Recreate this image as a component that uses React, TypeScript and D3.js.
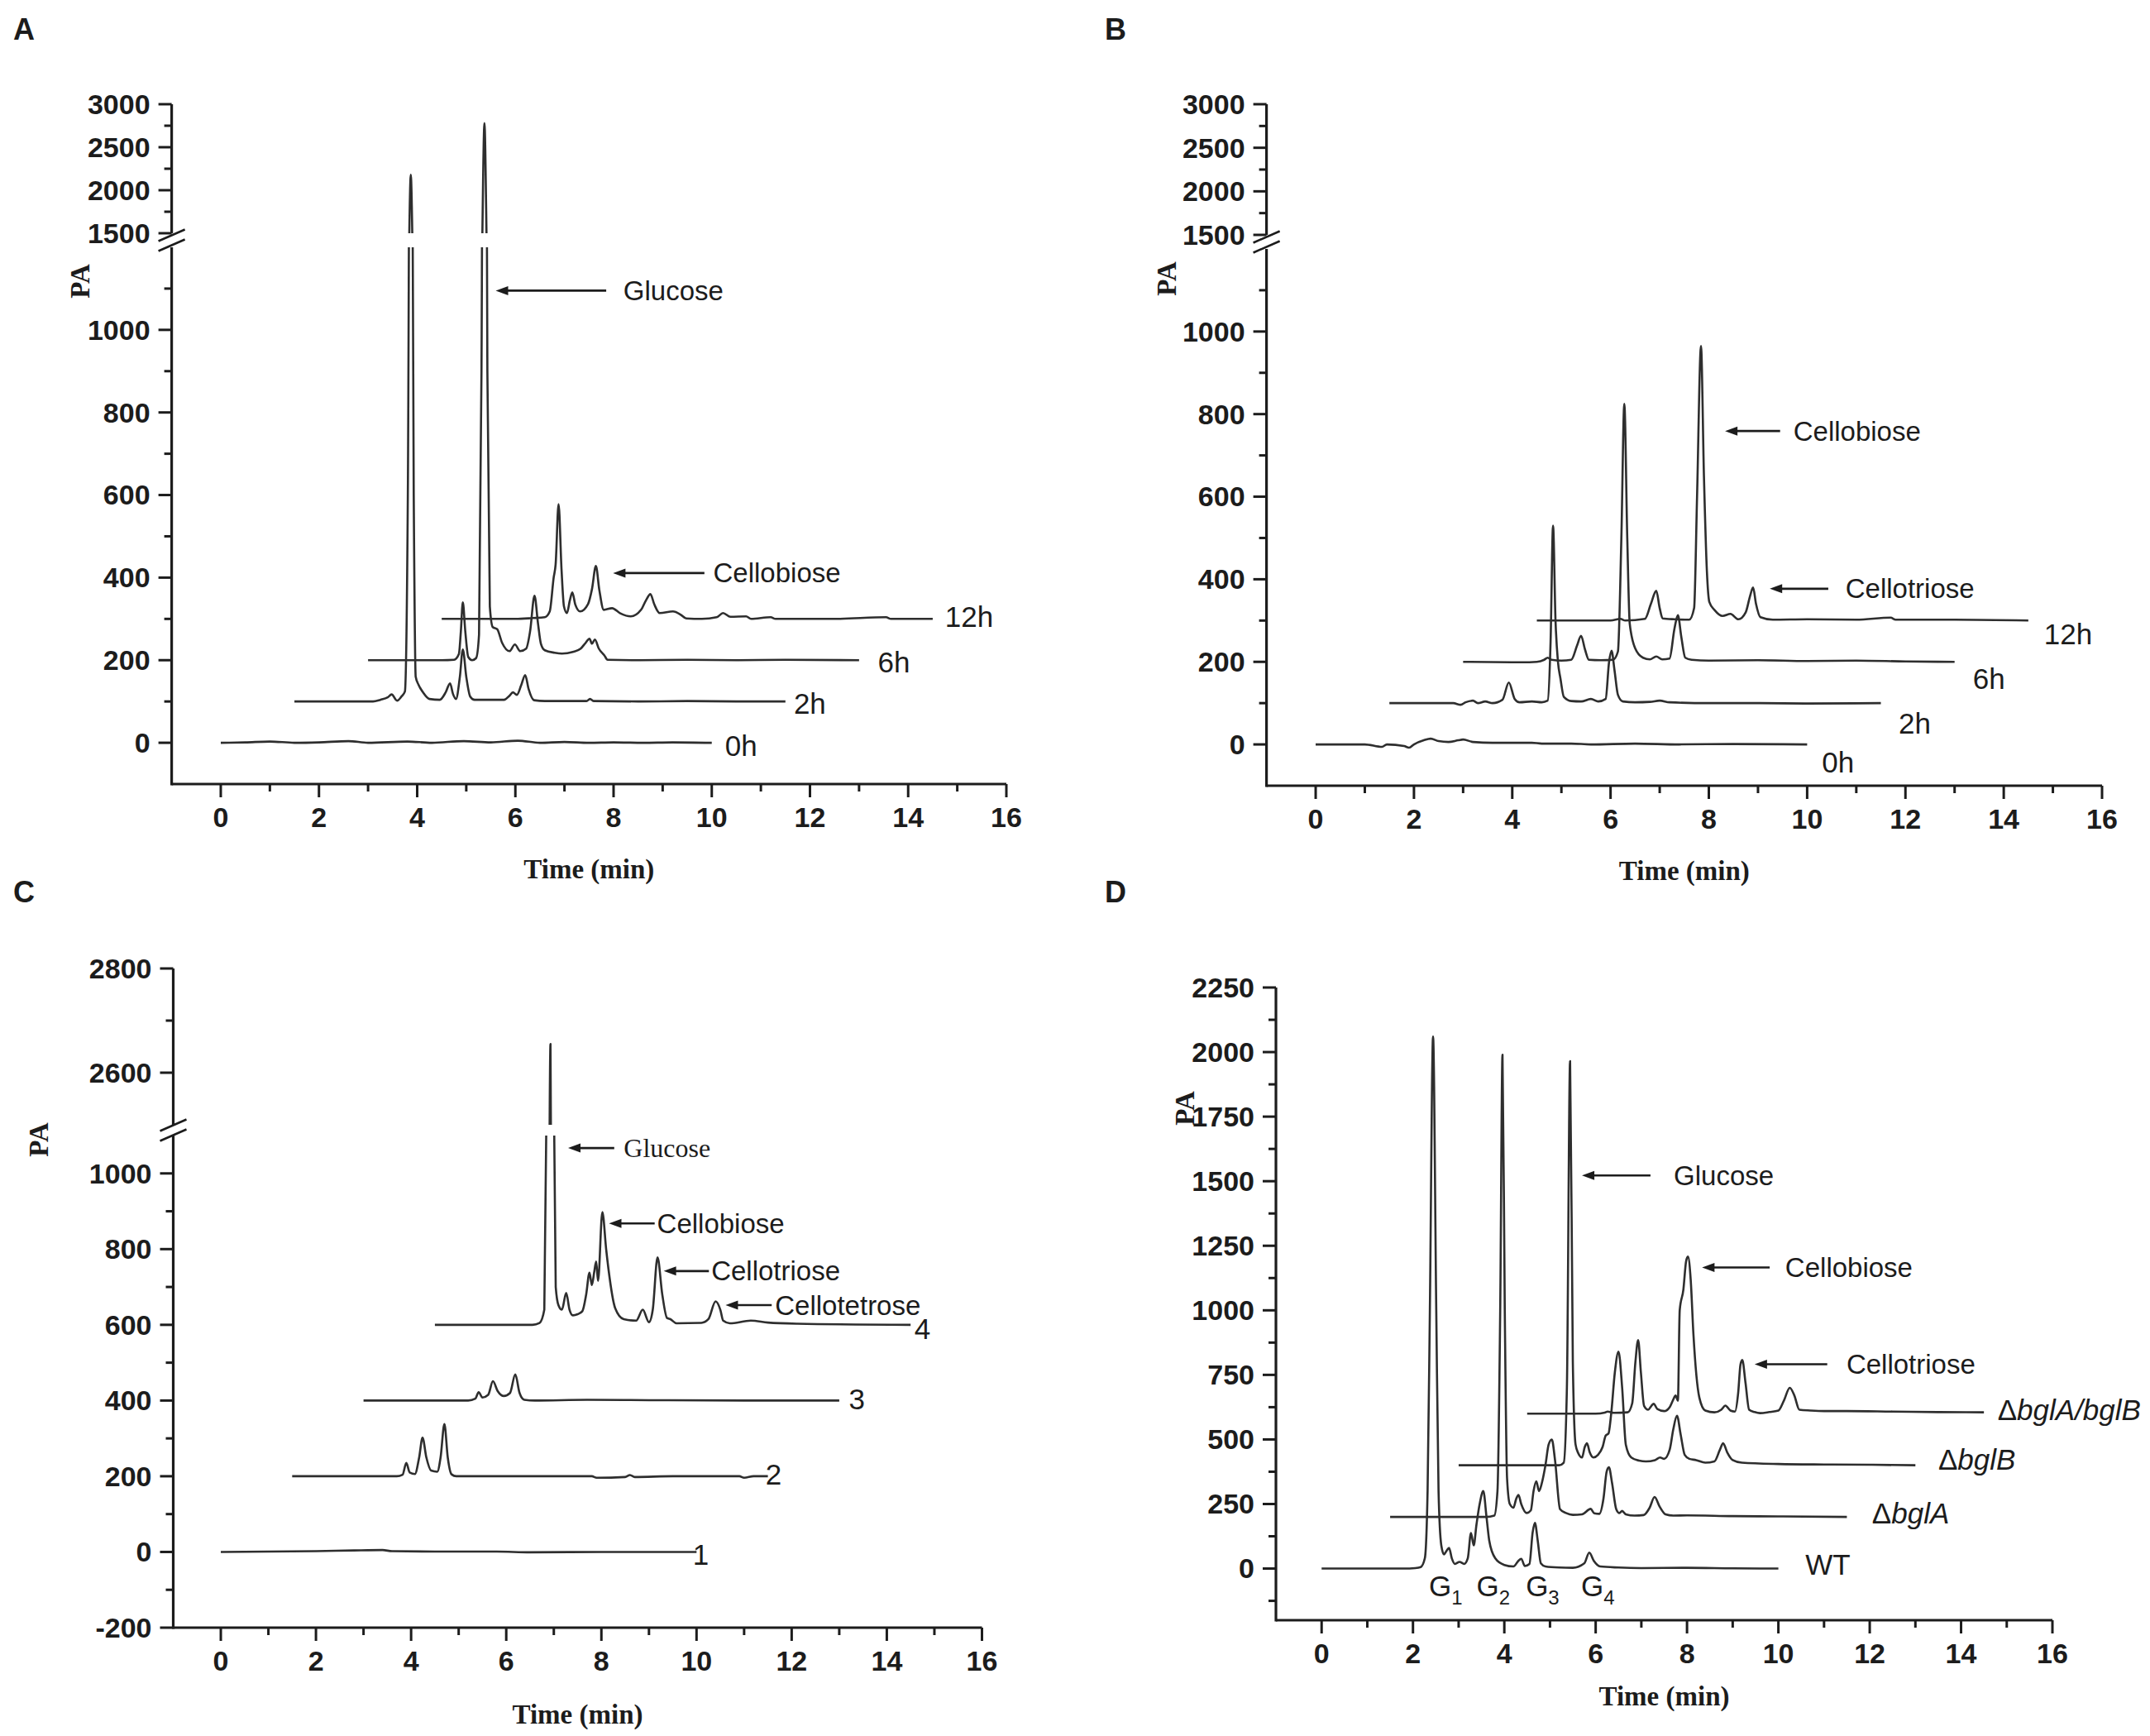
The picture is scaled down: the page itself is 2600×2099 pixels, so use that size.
import React from "react";
import * as d3 from "d3";

type Pt = [number, number];

const SANS = "'Liberation Sans', Arial, Helvetica, sans-serif";
const SERIF = "'Liberation Serif', 'Times New Roman', serif";
const INK = "#1c1c1c";
const TRACE = "#2e2e2e";

// ---------------- shared ticks ----------------
const timeMajor = [0, 2, 4, 6, 8, 10, 12, 14, 16];
const timeMinor = [1, 3, 5, 7, 9, 11, 13, 15];

// ---------------- Panel A ----------------
const A_yMajorLower = [0, 200, 400, 600, 800, 1000];
const A_yMinorLower = [100, 300, 500, 700, 900, 1100];
const A_yMajorUpper = [1500, 2000, 2500, 3000];
const A_yMinorUpper = [1750, 2250, 2750];

const A_0h: Pt[] = [[0, 0], [0.5, 1], [1, 3], [1.5, 0], [2, 1], [2.6, 4], [3, 0], [3.8, 3], [4.3, 0], [4.95, 4], [5.5, 1], [6.05, 5], [6.5, 0], [7, 2], [7.5, 0], [8, 1], [8.6, 0], [9.2, 1], [10, 0]];
const A_2h: Pt[] = [[1.5, 100], [3.1, 100], [3.25, 104], [3.4, 110], [3.48, 117], [3.59, 102], [3.68, 112], [3.75, 124], [3.81, 600], [3.87, 2180], [3.93, 600], [3.97, 160], [4.03, 140], [4.12, 122], [4.25, 106], [4.46, 104], [4.58, 122], [4.67, 144], [4.73, 118], [4.79, 106], [4.87, 160], [4.93, 226], [5.0, 160], [5.08, 112], [5.17, 104], [5.5, 104], [5.77, 104], [5.88, 114], [5.95, 122], [6.03, 116], [6.12, 140], [6.2, 164], [6.27, 130], [6.38, 103], [6.6, 101], [7.0, 101], [7.45, 101], [7.52, 106], [7.6, 101], [8.5, 100], [9.5, 101], [10.5, 100], [11.5, 100]];
const A_6h: Pt[] = [[3, 200], [4.5, 200], [4.75, 201], [4.85, 215], [4.89, 270], [4.93, 340], [4.98, 270], [5.04, 208], [5.12, 200], [5.2, 205], [5.26, 262], [5.31, 900], [5.37, 2780], [5.43, 900], [5.48, 330], [5.54, 280], [5.63, 275], [5.73, 242], [5.88, 222], [5.99, 238], [6.1, 222], [6.22, 228], [6.3, 270], [6.39, 356], [6.46, 290], [6.52, 240], [6.6, 224], [6.8, 218], [6.95, 216], [7.17, 220], [7.33, 228], [7.43, 242], [7.51, 252], [7.56, 240], [7.62, 250], [7.7, 228], [7.81, 212], [7.88, 201], [8.5, 200], [9.5, 201], [10.5, 200], [11.5, 201], [13, 200]];
const A_12h: Pt[] = [[4.5, 300], [6.0, 300], [6.35, 302], [6.6, 304], [6.7, 318], [6.78, 400], [6.82, 432], [6.88, 578], [6.94, 420], [6.99, 330], [7.05, 314], [7.11, 345], [7.16, 364], [7.22, 335], [7.32, 318], [7.48, 336], [7.56, 372], [7.64, 428], [7.71, 370], [7.8, 322], [7.97, 326], [8.13, 314], [8.35, 306], [8.56, 322], [8.66, 345], [8.75, 360], [8.83, 335], [8.94, 314], [9.21, 318], [9.37, 310], [9.48, 301], [9.8, 300], [10.1, 304], [10.23, 314], [10.38, 305], [10.7, 306], [10.8, 300], [11.2, 304], [11.3, 300], [12.5, 300], [13.55, 304], [13.65, 300], [14.5, 300]];

const A_labels = [
  { text: "0h", t: 10.27, v: -8 },
  { text: "2h", t: 11.67, v: 94 },
  { text: "6h", t: 13.38, v: 194 },
  { text: "12h", t: 14.75, v: 305 },
];
const A_notes = [
  { text: "Glucose", tip: 5.6, tail: 7.85, v: 1095, textT: 8.2, serif: false },
  { text: "Cellobiose", tip: 7.99, tail: 9.85, v: 411, textT: 10.03, serif: false },
];

// ---------------- Panel B ----------------
const B_0h: Pt[] = [[0, 0], [1.0, 0], [1.35, -6], [1.45, 0], [1.8, -4], [1.9, -8], [2.0, 0], [2.2, 10], [2.34, 14], [2.5, 8], [2.7, 6], [2.9, 10], [3.0, 12], [3.2, 6], [3.6, 4], [4.4, 4], [4.6, 2], [5.2, 2], [5.6, 0], [6.5, 2], [7.4, 0], [8.5, 1], [10, 0]];
const B_2h: Pt[] = [[1.5, 100], [2.8, 100], [2.95, 96], [3.05, 102], [3.2, 106], [3.3, 100], [3.45, 104], [3.6, 100], [3.8, 108], [3.93, 150], [4.05, 110], [4.15, 102], [4.4, 104], [4.6, 102], [4.72, 106], [4.78, 250], [4.83, 530], [4.88, 300], [4.93, 200], [4.98, 160], [5.05, 115], [5.2, 105], [5.4, 104], [5.6, 110], [5.75, 104], [5.9, 110], [5.97, 200], [6.02, 227], [6.08, 180], [6.15, 120], [6.25, 104], [6.5, 102], [6.8, 103], [7.0, 106], [7.2, 102], [8.0, 100], [9, 100], [10, 99], [11.5, 100]];
const B_6h: Pt[] = [[3, 200], [4.2, 199], [4.5, 200], [4.65, 205], [4.72, 210], [4.8, 205], [5.0, 203], [5.2, 205], [5.32, 240], [5.4, 263], [5.48, 230], [5.56, 205], [5.8, 204], [6.05, 205], [6.15, 225], [6.22, 500], [6.28, 825], [6.34, 500], [6.39, 293], [6.5, 233], [6.66, 210], [6.8, 206], [6.93, 213], [7.05, 206], [7.2, 208], [7.3, 280], [7.37, 313], [7.44, 260], [7.52, 210], [7.65, 205], [8.0, 203], [9.0, 204], [10, 202], [11, 203], [12, 201], [13, 200]];
const B_12h: Pt[] = [[4.5, 300], [6.0, 300], [6.2, 304], [6.3, 300], [6.7, 304], [6.82, 340], [6.93, 372], [7.0, 330], [7.06, 305], [7.3, 303], [7.6, 302], [7.7, 330], [7.76, 600], [7.84, 965], [7.9, 650], [7.96, 420], [8.01, 345], [8.12, 325], [8.28, 311], [8.44, 316], [8.6, 303], [8.75, 320], [8.84, 360], [8.9, 380], [8.96, 340], [9.05, 308], [9.3, 302], [10, 303], [11, 302], [11.7, 307], [11.8, 302], [13, 302], [14.5, 300]];

const B_labels = [
  { text: "0h", t: 10.3, v: -44 },
  { text: "2h", t: 11.86, v: 50 },
  { text: "6h", t: 13.37, v: 158 },
  { text: "12h", t: 14.82, v: 268 },
];
const B_notes = [
  { text: "Cellobiose", tip: 8.33, tail: 9.45, v: 759, textT: 9.72, serif: false },
  { text: "Cellotriose", tip: 9.24, tail: 10.43, v: 377, textT: 10.78, serif: false },
];

// ---------------- Panel C ----------------
const C_yMajorLower = [-200, 0, 200, 400, 600, 800, 1000];
const C_yMinorLower = [-100, 100, 300, 500, 700, 900];
const C_yMajorUpper = [2600, 2800];
const C_yMinorUpper = [2700];

const C_1: Pt[] = [[0, 0], [1, 1], [2, 2], [2.8, 4], [3.4, 5], [3.6, 2], [4.5, 1], [5.8, 1], [6.5, -1], [8, 0], [10, 0]];
const C_2: Pt[] = [[1.5, 200], [3.7, 200], [3.82, 204], [3.9, 235], [3.97, 210], [4.08, 206], [4.17, 250], [4.24, 302], [4.32, 250], [4.42, 215], [4.55, 212], [4.62, 250], [4.7, 338], [4.77, 250], [4.85, 205], [4.95, 200], [6.0, 200], [7.8, 200], [7.9, 196], [8.5, 198], [8.6, 203], [8.7, 198], [9.5, 200], [10.9, 200], [11.0, 196], [11.2, 200], [11.5, 200]];
const C_3: Pt[] = [[3, 400], [5.2, 400], [5.35, 405], [5.42, 422], [5.5, 408], [5.62, 415], [5.72, 451], [5.82, 425], [5.95, 412], [6.08, 420], [6.19, 469], [6.28, 420], [6.38, 402], [6.6, 400], [7.7, 402], [9.0, 401], [11, 400], [13, 400]];
const C_4: Pt[] = [[4.5, 600], [6.55, 600], [6.7, 605], [6.8, 640], [6.86, 1400], [6.93, 2655], [6.99, 1400], [7.04, 700], [7.1, 651], [7.17, 640], [7.26, 684], [7.33, 640], [7.4, 625], [7.5, 628], [7.6, 636], [7.68, 680], [7.75, 738], [7.8, 705], [7.85, 740], [7.89, 767], [7.93, 716], [8.02, 898], [8.1, 800], [8.15, 746], [8.29, 644], [8.47, 615], [8.73, 611], [8.87, 640], [9.0, 607], [9.08, 640], [9.18, 778], [9.28, 680], [9.38, 618], [9.45, 615], [9.58, 604], [10.1, 605], [10.25, 615], [10.4, 662], [10.5, 640], [10.56, 611], [10.7, 604], [11.14, 611], [11.5, 606], [12.12, 603], [14.5, 600]];

const C_labels = [
  { text: "1", t: 9.92, v: -8 },
  { text: "2", t: 11.45, v: 204 },
  { text: "3", t: 13.2, v: 403 },
  { text: "4", t: 14.58, v: 589 },
];
const C_notes = [
  { text: "Glucose", tip: 7.3, tail: 8.27, v: 1067, textT: 8.47, serif: true },
  { text: "Cellobiose", tip: 8.16, tail: 9.12, v: 868, textT: 9.17, serif: false },
  { text: "Cellotriose", tip: 9.31, tail: 10.26, v: 742, textT: 10.31, serif: false },
  { text: "Cellotetrose", tip: 10.61, tail: 11.58, v: 652, textT: 11.65, serif: false },
];

// ---------------- Panel D ----------------
const D_yMajor = [0, 250, 500, 750, 1000, 1250, 1500, 1750, 2000, 2250];
const D_yMinor = [-125, 125, 375, 625, 875, 1125, 1375, 1625, 1875, 2125];

const D_WT: Pt[] = [[0, 0], [1.8, 0], [2.05, 2], [2.17, 6], [2.26, 40], [2.32, 300], [2.37, 1000], [2.44, 2060], [2.51, 1000], [2.56, 300], [2.62, 90], [2.68, 55], [2.74, 70], [2.79, 80], [2.85, 40], [2.92, 18], [3.02, 26], [3.12, 18], [3.2, 40], [3.27, 138], [3.33, 90], [3.39, 170], [3.46, 250], [3.54, 300], [3.61, 200], [3.67, 108], [3.8, 40], [4.0, 14], [4.2, 8], [4.3, 28], [4.37, 38], [4.45, 10], [4.55, 18], [4.62, 140], [4.67, 177], [4.73, 110], [4.8, 20], [4.9, 8], [5.2, 4], [5.5, 3], [5.75, 20], [5.86, 62], [5.96, 30], [6.1, 8], [6.5, 4], [7, 2], [8, 3], [9, 1], [10, 0]];
const D_A: Pt[] = [[1.5, 200], [3.6, 200], [3.78, 205], [3.85, 300], [3.91, 1000], [3.96, 1990], [4.01, 1000], [4.06, 350], [4.12, 250], [4.2, 236], [4.26, 270], [4.31, 285], [4.37, 250], [4.49, 215], [4.58, 225], [4.64, 300], [4.7, 338], [4.76, 300], [4.82, 330], [4.9, 400], [4.97, 480], [5.04, 500], [5.11, 420], [5.22, 230], [5.35, 215], [5.5, 208], [5.7, 210], [5.89, 231], [5.97, 214], [6.08, 212], [6.17, 270], [6.24, 375], [6.29, 392], [6.36, 330], [6.45, 230], [6.52, 215], [6.58, 223], [6.66, 210], [6.85, 205], [7.05, 207], [7.18, 235], [7.29, 277], [7.4, 240], [7.53, 210], [7.7, 205], [8, 206], [9, 203], [10, 202], [11.5, 200]];
const D_B: Pt[] = [[3, 400], [5.2, 400], [5.3, 410], [5.37, 700], [5.44, 1965], [5.5, 800], [5.56, 480], [5.62, 446], [5.7, 430], [5.76, 470], [5.81, 485], [5.87, 450], [5.95, 430], [6.05, 440], [6.15, 470], [6.22, 515], [6.28, 523], [6.34, 600], [6.42, 760], [6.5, 840], [6.58, 700], [6.66, 480], [6.78, 430], [6.95, 418], [7.1, 415], [7.3, 420], [7.41, 430], [7.5, 425], [7.62, 460], [7.7, 540], [7.78, 592], [7.86, 520], [7.95, 440], [8.05, 425], [8.2, 420], [8.4, 410], [8.6, 415], [8.72, 460], [8.79, 485], [8.88, 450], [9.0, 420], [9.2, 410], [10, 405], [11, 403], [12, 402], [13, 400]];
const D_AB: Pt[] = [[4.5, 600], [6.0, 600], [6.2, 604], [6.26, 608], [6.4, 603], [6.7, 605], [6.8, 640], [6.87, 800], [6.93, 885], [6.99, 760], [7.06, 630], [7.15, 615], [7.22, 630], [7.27, 638], [7.35, 618], [7.5, 610], [7.62, 625], [7.7, 655], [7.75, 670], [7.8, 650], [7.84, 1000], [7.92, 1080], [7.98, 1190], [8.02, 1208], [8.08, 1120], [8.14, 908], [8.27, 662], [8.4, 612], [8.6, 605], [8.75, 615], [8.84, 631], [8.95, 612], [9.05, 608], [9.12, 680], [9.17, 790], [9.21, 808], [9.28, 720], [9.36, 615], [9.48, 606], [9.6, 602], [9.8, 606], [10.0, 612], [10.12, 650], [10.25, 700], [10.35, 670], [10.46, 615], [10.7, 612], [11.0, 610], [11.5, 610], [12.5, 608], [13.5, 606], [14.5, 605]];

const D_labels = [
  { parts: [{ s: "WT", it: false }], t: 10.59, v: 15 },
  { parts: [{ s: "Δ", it: false }, { s: "bglA", it: true }], t: 12.05, v: 213 },
  { parts: [{ s: "Δ", it: false }, { s: "bglB", it: true }], t: 13.5, v: 421 },
  { parts: [{ s: "Δ", it: false }, { s: "bglA/bglB", it: true }], t: 14.8, v: 614 },
];
const D_notes = [
  { text: "Glucose", tip: 5.7, tail: 7.2, v: 1522, textT: 7.71, serif: false },
  { text: "Cellobiose", tip: 8.33, tail: 9.81, v: 1166, textT: 10.15, serif: false },
  { text: "Cellotriose", tip: 9.48, tail: 11.07, v: 791, textT: 11.49, serif: false },
];
const D_glabels = [
  { sub: "1", t: 2.35, v: -69 },
  { sub: "2", t: 3.39, v: -69 },
  { sub: "3", t: 4.47, v: -69 },
  { sub: "4", t: 5.68, v: -69 },
];

// ---------------- panel specs ----------------
type Seg = { domain: [number, number]; range: [number, number] };
type Note = { text: string; tip: number; tail: number; v: number; textT: number; serif: boolean };
type Label = { parts: { s: string; it: boolean }[]; t: number; v: number };

interface Spec {
  id: string;
  letter: string;
  letterPos: [number, number];
  xRange: [number, number];
  lower: Seg;
  upper?: Seg;
  yMajorLower: number[];
  yMinorLower: number[];
  yMajorUpper?: number[];
  yMinorUpper?: number[];
  pa: [number, number];
  timeOffset: number;
  traces: Pt[][];
  labels: Label[];
  notes: Note[];
  glabels?: { sub: string; t: number; v: number }[];
}

const simple = (arr: { text: string; t: number; v: number }[]): Label[] =>
  arr.map((d) => ({ parts: [{ s: d.text, it: false }], t: d.t, v: d.v }));

const PANELS: Spec[] = [
  {
    id: "A", letter: "A", letterPos: [16, 48],
    xRange: [207.6, 1217],
    lower: { domain: [-100, 1200], range: [948, 299] },
    upper: { domain: [1500, 3000], range: [282, 126] },
    yMajorLower: A_yMajorLower, yMinorLower: A_yMinorLower,
    yMajorUpper: A_yMajorUpper, yMinorUpper: A_yMinorUpper,
    pa: [96, 340], timeOffset: 102,
    traces: [A_0h, A_2h, A_6h, A_12h],
    labels: simple(A_labels), notes: A_notes,
  },
  {
    id: "B", letter: "B", letterPos: [1336, 48],
    xRange: [1531.6, 2542],
    lower: { domain: [-100, 1200], range: [950, 301] },
    upper: { domain: [1500, 3000], range: [284, 126] },
    yMajorLower: A_yMajorLower, yMinorLower: A_yMinorLower,
    yMajorUpper: A_yMajorUpper, yMinorUpper: A_yMinorUpper,
    pa: [1410, 337], timeOffset: 102,
    traces: [B_0h, B_2h, B_6h, B_12h],
    labels: simple(B_labels), notes: B_notes,
  },
  {
    id: "C", letter: "C", letterPos: [16, 1091],
    xRange: [209.5, 1187.5],
    lower: { domain: [-200, 1100], range: [1968, 1373] },
    upper: { domain: [2500, 2800], range: [1360, 1171] },
    yMajorLower: C_yMajorLower, yMinorLower: C_yMinorLower,
    yMajorUpper: C_yMajorUpper, yMinorUpper: C_yMinorUpper,
    pa: [46, 1378], timeOffset: 104,
    traces: [C_1, C_2, C_3, C_4],
    labels: simple(C_labels), notes: C_notes,
  },
  {
    id: "D", letter: "D", letterPos: [1336, 1091],
    xRange: [1543, 2482],
    lower: { domain: [-200, 2250], range: [1959, 1194] },
    yMajorLower: D_yMajor, yMinorLower: D_yMinor,
    pa: [1432, 1340], timeOffset: 91,
    traces: [D_WT, D_A, D_B, D_AB],
    labels: D_labels, notes: D_notes, glabels: D_glabels,
  },
];

const MAJ = 16;
const MIN = 9;
const TICK_FS = 34;

function Panel({ spec }: { spec: Spec }) {
  const x = d3.scaleLinear().domain([-1, 16]).range(spec.xRange);
  const yL = d3.scaleLinear().domain(spec.lower.domain).range(spec.lower.range);
  const yU = spec.upper ? d3.scaleLinear().domain(spec.upper.domain).range(spec.upper.range) : null;
  const yOf = (v: number) => (yU && v >= spec.upper!.domain[0] ? yU(v) : yL(v));

  const ax = x(-1);
  const xr = x(16);
  const bottom = yL(spec.lower.domain[0]);
  const lowerTop = yL(spec.lower.domain[1]);
  const upBot = yU ? yU(spec.upper!.domain[0]) : 0;
  const upTop = yU ? yU(spec.upper!.domain[1]) : 0;

  const lineL = d3.line<Pt>().x((d) => x(d[0])).y((d) => yL(d[1])).curve(d3.curveMonotoneX);
  const lineU = yU ? d3.line<Pt>().x((d) => x(d[0])).y((d) => yU(d[1])).curve(d3.curveMonotoneX) : null;

  const clipLo = `clip-${spec.id}-lo`;
  const clipUp = `clip-${spec.id}-up`;

  const yTick = (v: number, major: boolean, scale: (n: number) => number, key: string) => {
    const y = scale(v);
    return (
      <g key={key}>
        <line x1={ax - (major ? MAJ : MIN)} x2={ax} y1={y} y2={y} stroke={INK} strokeWidth={3} />
        {major && (
          <text x={ax - 26} y={y} dy="0.35em" textAnchor="end" fontFamily={SANS} fontWeight="bold" fontSize={TICK_FS} fill={INK}>
            {String(v)}
          </text>
        )}
      </g>
    );
  };

  const bc = yU ? (upBot + lowerTop) / 2 : 0;

  return (
    <g>
      <defs>
        <clipPath id={clipLo}>
          <rect x={ax} y={yU ? lowerTop : 0} width={2600} height={yU ? bottom - lowerTop + 30 : 2099} />
        </clipPath>
        {yU && (
          <clipPath id={clipUp}>
            <rect x={ax} y={upTop - 40} width={2600} height={upBot - upTop + 40} />
          </clipPath>
        )}
      </defs>

      {/* panel letter */}
      <text x={spec.letterPos[0]} y={spec.letterPos[1]} fontFamily={SANS} fontWeight="bold" fontSize={36} fill={INK}>
        {spec.letter}
      </text>

      {/* traces */}
      <g clipPath={`url(#${clipLo})`}>
        {spec.traces.map((tr, i) => (
          <path key={i} d={lineL(tr) || ""} fill="none" stroke={TRACE} strokeWidth={2.6} strokeLinejoin="round" />
        ))}
      </g>
      {yU && lineU && (
        <g clipPath={`url(#${clipUp})`}>
          {spec.traces.map((tr, i) => (
            <path key={i} d={lineU(tr) || ""} fill="none" stroke={TRACE} strokeWidth={2.6} strokeLinejoin="round" />
          ))}
        </g>
      )}

      {/* axes */}
      <line x1={ax} x2={xr} y1={bottom} y2={bottom} stroke={INK} strokeWidth={3.2} />
      <line x1={ax} x2={ax} y1={bottom + 1.5} y2={lowerTop} stroke={INK} strokeWidth={3.2} />
      {yU && <line x1={ax} x2={ax} y1={upBot} y2={upTop} stroke={INK} strokeWidth={3.2} />}
      {yU && (
        <g stroke={INK} strokeWidth={2.6}>
          <line x1={ax - 16} y1={bc - 6 + 7} x2={ax + 16} y2={bc - 6 - 7} />
          <line x1={ax - 16} y1={bc + 6 + 7} x2={ax + 16} y2={bc + 6 - 7} />
        </g>
      )}

      {spec.yMajorLower.map((v) => yTick(v, true, yL, `lM${v}`))}
      {spec.yMinorLower.map((v) => yTick(v, false, yL, `lm${v}`))}
      {yU && spec.yMajorUpper!.map((v) => yTick(v, true, yU, `uM${v}`))}
      {yU && spec.yMinorUpper!.map((v) => yTick(v, false, yU, `um${v}`))}

      {timeMajor.map((t) => (
        <g key={`xM${t}`}>
          <line x1={x(t)} x2={x(t)} y1={bottom} y2={bottom + MAJ} stroke={INK} strokeWidth={3} />
          <text x={x(t)} y={bottom + 52} textAnchor="middle" fontFamily={SANS} fontWeight="bold" fontSize={TICK_FS} fill={INK}>
            {String(t)}
          </text>
        </g>
      ))}
      {timeMinor.map((t) => (
        <line key={`xm${t}`} x1={x(t)} x2={x(t)} y1={bottom} y2={bottom + MIN} stroke={INK} strokeWidth={3} />
      ))}

      {/* axis titles */}
      <text x={x(7.5)} y={bottom + spec.timeOffset} dy="0.35em" textAnchor="middle" fontFamily={SERIF} fontWeight="bold" fontSize={33} fill={INK}>
        Time (min)
      </text>
      <text
        transform={`translate(${spec.pa[0]},${spec.pa[1]}) rotate(-90)`}
        textAnchor="middle"
        dy="0.35em"
        fontFamily={SERIF}
        fontWeight="bold"
        fontSize={33}
        fill={INK}
      >
        PA
      </text>

      {/* trace labels */}
      {spec.labels.map((l, i) => (
        <text key={`lb${i}`} x={x(l.t)} y={yOf(l.v)} dy="0.35em" fontFamily={SANS} fontSize={35} fill={INK}>
          {l.parts.map((p, j) => (
            <tspan key={j} fontStyle={p.it ? "italic" : "normal"}>
              {p.s}
            </tspan>
          ))}
        </text>
      ))}

      {/* annotations */}
      {spec.notes.map((n, i) => {
        const y = yOf(n.v);
        const xt = x(n.tip);
        return (
          <g key={`nt${i}`}>
            <line x1={xt + 12} x2={x(n.tail)} y1={y} y2={y} stroke={INK} strokeWidth={2.6} />
            <path d={`M${xt},${y} L${xt + 15},${y - 5.5} L${xt + 15},${y + 5.5} Z`} fill={INK} />
            <text x={x(n.textT)} y={y} dy="0.35em" fontFamily={n.serif ? SERIF : SANS} fontSize={n.serif ? 32 : 33} fill={INK}>
              {n.text}
            </text>
          </g>
        );
      })}

      {/* G labels (panel D) */}
      {spec.glabels &&
        spec.glabels.map((g, i) => (
          <text key={`g${i}`} x={x(g.t)} y={yOf(g.v)} dy="0.35em" fontFamily={SANS} fontSize={35} fill={INK}>
            G
            <tspan dy={10} fontSize={24}>
              {g.sub}
            </tspan>
          </text>
        ))}
    </g>
  );
}

export default function App() {
  return (
    <svg
      width={2600}
      height={2099}
      viewBox="0 0 2600 2099"
      style={{ position: "absolute", left: 0, top: 0, display: "block" }}
      xmlns="http://www.w3.org/2000/svg"
    >
      <rect x={0} y={0} width={2600} height={2099} fill="#ffffff" />
      {PANELS.map((p) => (
        <Panel key={p.id} spec={p} />
      ))}
    </svg>
  );
}
